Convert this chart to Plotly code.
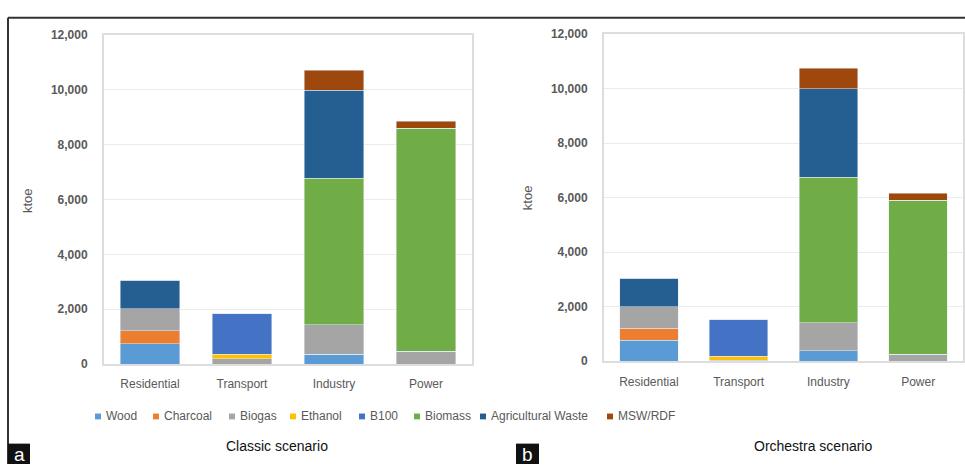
import plotly.graph_objects as go

# Sector categories
sectors = ["Residential", "Transport", "Industry", "Power"]

# Bioenergy demand by source (ktoe), Classic scenario
classic_wood = [750, 0, 365, 0]
classic_charcoal = [460, 0, 0, 0]
classic_biogas = [815, 200, 1060, 460]
classic_ethanol = [0, 165, 0, 0]
classic_b100 = [0, 1475, 0, 0]
classic_biomass = [0, 0, 5345, 8140]
classic_agri_waste = [1030, 0, 3220, 0]
classic_msw = [0, 0, 735, 260]

# Bioenergy demand by source (ktoe), Orchestra scenario
orchestra_wood = [770, 0, 380, 0]
orchestra_charcoal = [430, 0, 0, 0]
orchestra_biogas = [805, 40, 1020, 260]
orchestra_ethanol = [0, 140, 0, 0]
orchestra_b100 = [0, 1350, 0, 0]
orchestra_biomass = [0, 0, 5340, 5650]
orchestra_agri_waste = [1045, 0, 3255, 0]
orchestra_msw = [0, 0, 745, 250]

source_names = ["Wood", "Charcoal", "Biogas", "Ethanol", "B100", "Biomass",
                "Agricultural Waste", "MSW/RDF"]
source_colors = ["#5B9BD5", "#ED7D31", "#A5A5A5", "#FFC000", "#4472C4",
                 "#70AD47", "#255E91", "#9E480E"]

classic = [classic_wood, classic_charcoal, classic_biogas, classic_ethanol,
           classic_b100, classic_biomass, classic_agri_waste, classic_msw]
orchestra = [orchestra_wood, orchestra_charcoal, orchestra_biogas, orchestra_ethanol,
             orchestra_b100, orchestra_biomass, orchestra_agri_waste, orchestra_msw]

W, H = 965, 471
FONT = "Liberation Sans, Arial, sans-serif"
GREY = "#595959"


def px(x):
    return x / W


def py(y):
    return (H - y) / H


fig = go.Figure()

for name, color, vals in zip(source_names, source_colors, classic):
    fig.add_trace(go.Bar(x=sectors, y=vals, name=name, marker_color=color,
                         xaxis="x", yaxis="y", showlegend=False))
for name, color, vals in zip(source_names, source_colors, orchestra):
    fig.add_trace(go.Bar(x=sectors, y=vals, name=name, marker_color=color,
                         xaxis="x2", yaxis="y2", showlegend=False))

axis_common = dict(showline=True, linecolor="#DDDDDD", linewidth=2, mirror=True,
                   ticks="", fixedrange=True)
xaxis_style = dict(axis_common, tickfont=dict(family=FONT, size=12, color=GREY),
                   ticklabelstandoff=8, showgrid=False)
yaxis_style = dict(axis_common, range=[0, 12000], dtick=2000, tickformat=",",
                   showgrid=True, gridcolor="#EBEBEB", gridwidth=1,
                   tickfont=dict(family=FONT, size=12, color=GREY, weight="bold"),
                   ticklabelstandoff=12, zeroline=False)

fig.update_layout(
    width=W, height=H,
    margin=dict(l=0, r=0, t=0, b=0),
    paper_bgcolor="white", plot_bgcolor="white",
    barmode="stack", bargap=0.35,
    xaxis=dict(xaxis_style, domain=[px(104), px(472)], anchor="y"),
    yaxis=dict(yaxis_style, domain=[py(368), py(29)], anchor="x"),
    xaxis2=dict(xaxis_style, domain=[px(604), px(963)], anchor="y2"),
    yaxis2=dict(yaxis_style, domain=[py(365), py(28)], anchor="x2"),
)

annotations = []
shapes = []


def label(text, x, y, size, color, **kw):
    """Centre-anchored text placed in page pixels."""
    opts = dict(x=px(x), y=py(y), xref="paper", yref="paper", text=text,
                showarrow=False, xanchor="center", yanchor="middle",
                font=dict(family=FONT, size=size, color=color))
    opts.update(kw)
    annotations.append(opts)


# y-axis titles
label("ktoe", 27, 200, 13, GREY, textangle=-90)
label("ktoe", 527, 197, 13, GREY, textangle=-90)

# Shared legend row
legend_x = [98, 156, 232, 293, 362, 417, 483, 610]
legend_y = 422
for name, color, lx in zip(source_names, source_colors, legend_x):
    shapes.append(dict(type="rect", xref="paper", yref="paper",
                       x0=px(lx - 3), x1=px(lx + 3), y0=py(legend_y + 3), y1=py(legend_y - 3),
                       fillcolor=color, line=dict(width=0)))
    label(name, lx + 6, legend_y, 12, GREY, xanchor="left")

# Panel captions
label("Classic scenario", 277, 452, 14, "#111111")
label("Orchestra scenario", 813, 452, 14, "#111111")

# Outer frame
shapes.append(dict(type="line", xref="paper", yref="paper",
                   x0=px(8), x1=1, y0=py(11), y1=py(11),
                   line=dict(color="#333333", width=2)))
shapes.append(dict(type="line", xref="paper", yref="paper",
                   x0=px(8), x1=px(8), y0=py(11), y1=0,
                   line=dict(color="#333333", width=2)))

# Panel letter tags
for letter, x0, x1 in [("a", 8, 30), ("b", 516, 539)]:
    shapes.append(dict(type="rect", xref="paper", yref="paper",
                       x0=px(x0), x1=px(x1), y0=0, y1=py(450),
                       fillcolor="#111111", line=dict(width=0)))
    label(letter, (x0 + x1) / 2, 461, 19, "white")

fig.update_layout(annotations=annotations, shapes=shapes)

fig.write_html("out.html", config={"displayModeBar": False},
               post_script="document.body.style.margin='0';")
